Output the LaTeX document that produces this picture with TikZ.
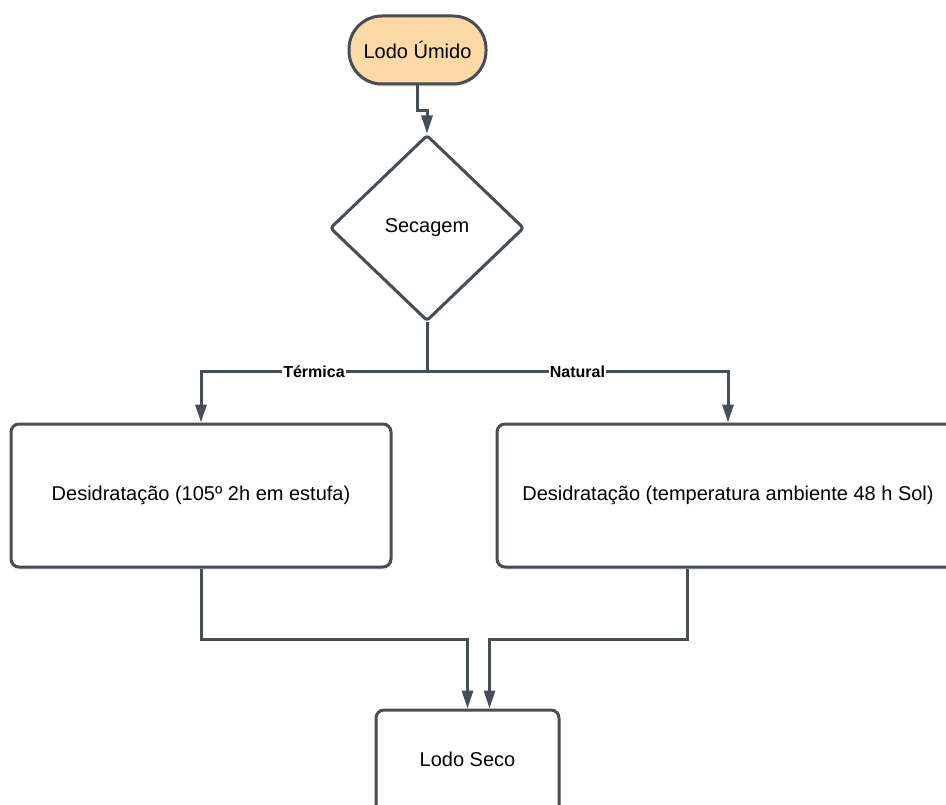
\documentclass[tikz,border=0pt]{standalone}
\usepackage{fontspec}
\setmainfont{Liberation Sans}
\usetikzlibrary{shapes.geometric,arrows.meta,shadows}
\definecolor{ln}{HTML}{474D55}
\definecolor{orng}{HTML}{FDD9A6}
\tikzset{
  base/.style={draw=ln, line width=3pt, font=\fontsize{20}{24}\selectfont, inner sep=0pt, align=center,
    drop shadow={opacity=0.15, shadow xshift=0pt, shadow yshift=-3pt}},
  term/.style={base, rectangle, rounded corners=33pt, fill=orng, minimum width=137pt, minimum height=68pt},
  decide/.style={base, diamond, rounded corners=3pt, fill=white, minimum width=194pt, minimum height=186pt},
  stepbox/.style={base, rectangle, rounded corners=8pt, fill=white, minimum height=143pt},
  conn/.style={draw=ln, line width=3pt},
  arr/.style={conn, -{Triangle[length=18pt,width=11pt]}},
  lab/.style={fill=white, inner sep=1pt, font=\bfseries\fontsize{16}{18}\selectfont}
}
\begin{document}
\begin{tikzpicture}[x=1pt,y=-1pt]
\useasboundingbox (0,0) rectangle (946,805);
\clip (0,0) rectangle (946,805);
\fill[white] (0,0) rectangle (946,805);
\node[term] (start) at (417.5,50) {Lodo Úmido};
\node[decide] (dec) at (427,228) {Secagem};
\node[stepbox, minimum width=380pt] (a) at (201,495.5) {Desidratação (105º 2h em estufa)};
\node[stepbox, minimum width=462pt] (b) at (728,495.5) {Desidratação (temperatura ambiente 48 h Sol)};
\node[stepbox, minimum width=183pt, minimum height=120pt] (c) at (467.5,770) {};
\node[font=\fontsize{20}{24}\selectfont] (ct) at (467.5,759) {Lodo Seco};
\draw[arr] (start.south) -- ++(0,25) -| (dec.north);
\draw[conn] (dec.south) -- ++(0,49) coordinate (j);
\draw[arr] (j) -| node[pos=0.25,lab] {Térmica} (a.north);
\draw[arr] (j) -| node[pos=0.25,lab] {Natural} (b.north);
\draw[arr] (a.south) -- ++(0,71) -| (c.north);
\draw[arr] ([xshift=-41pt]b.south) -- ++(0,71) -| ([xshift=22pt]c.north);
\end{tikzpicture}
\end{document}
